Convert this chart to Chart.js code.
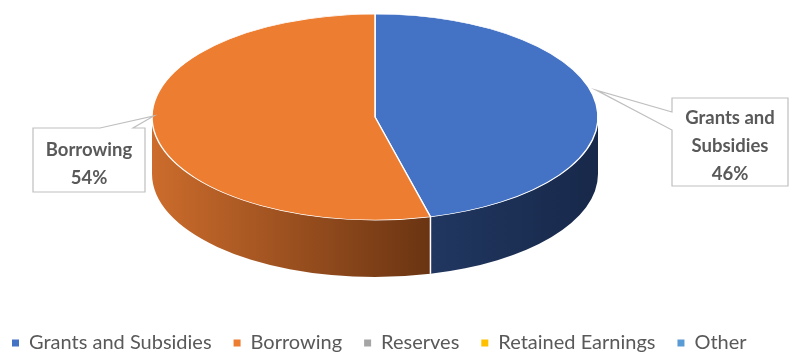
<!DOCTYPE html>
<html>
<head>
<meta charset="utf-8">
<title>Funding Sources</title>
<script src="https://cdn.jsdelivr.net/npm/chart.js@4.4.1/dist/chart.umd.min.js"></script>
<style>
  html, body { margin: 0; padding: 0; background: #ffffff; }
  #wrap { width: 792px; height: 355px; position: relative; }
</style>
</head>
<body>
<div id="wrap"><canvas id="fundingChart"></canvas></div>
<script>
// funding mix (percent)
const sources = ['Grants and Subsidies', 'Borrowing', 'Reserves', 'Retained Earnings', 'Other'];
const shares = [46, 54, 0, 0, 0];
const topColors = ['#4472C4', '#ED7D31', '#A5A5A5', '#FFC000', '#5B9BD5'];
// side wall shading, light end -> dark end
const sideColors = [
  ['#213760', '#17284A'],
  ['#CC6C2C', '#6A3412'],
  ['#8A8A8A', '#555555'],
  ['#D9A300', '#8A6700'],
  ['#4A80B2', '#2B4C6B']
];

// callout boxes for the data labels (left, top, width, height, where the pointer leaves the box)
const callouts = [
  { left: 672, top: 98, width: 116, height: 88, side: 'left', from: 14, to: 32 },
  { left: 33, top: 128, width: 112, height: 64, side: 'top', from: 67, to: 100 }
];

const labelFont = 'bold 18.5px Lato, "Open Sans", sans-serif';
const textGray = '#595959';

// squashes the pie into an ellipse and gives it a side wall
const pie3d = {
  id: 'pie3d',
  beforeDatasetsDraw(chart, args, opts) {
    const ctx = chart.ctx;
    const arcs = chart.getDatasetMeta(0).data;
    const cx = arcs[0].x + opts.shiftX;
    const rx = arcs[0].outerRadius;
    const ry = rx * opts.squash;
    const cy = chart.chartArea.top + ry;
    const depth = opts.depth;

    ctx.save();
    arcs.forEach((arc, i) => {
      // only the front half of the wall (0..PI) can be seen
      const s = Math.max(arc.startAngle, 0);
      const e = Math.min(arc.endAngle, Math.PI);
      if (e <= s) return;
      const xLeft = cx + rx * Math.cos(e);
      const xRight = cx + rx * Math.cos(s);
      const grad = ctx.createLinearGradient(xLeft, 0, xRight, 0);
      grad.addColorStop(0, sideColors[i][0]);
      grad.addColorStop(1, sideColors[i][1]);
      ctx.beginPath();
      ctx.ellipse(cx, cy, rx, ry, 0, s, e);
      ctx.ellipse(cx, cy + depth, rx, ry, 0, e, s, true);
      ctx.closePath();
      ctx.fillStyle = grad;
      ctx.fill();
    });
    // white seams where slices meet on the wall
    ctx.strokeStyle = '#ffffff';
    ctx.lineWidth = 1.5;
    arcs.forEach((arc) => {
      const a = arc.startAngle;
      if (a > 0 && a < Math.PI && arc.circumference > 0) {
        const px = cx + rx * Math.cos(a);
        const py = cy + ry * Math.sin(a);
        ctx.beginPath();
        ctx.moveTo(px, py);
        ctx.lineTo(px, py + depth);
        ctx.stroke();
      }
    });
    ctx.restore();

    // the library draws the top face inside this transform
    ctx.save();
    ctx.translate(opts.shiftX, cy);
    ctx.scale(1, opts.squash);
    ctx.translate(0, -arcs[0].y);
  },
  afterDatasetsDraw(chart, args, opts) {
    const ctx = chart.ctx;
    ctx.restore();

    const arcs = chart.getDatasetMeta(0).data;
    const cx = arcs[0].x + opts.shiftX;
    const rx = arcs[0].outerRadius;
    const ry = rx * opts.squash;
    const cy = chart.chartArea.top + ry;
    const total = shares.reduce((a, b) => a + b, 0);

    let n = 0;
    arcs.forEach((arc, i) => {
      if (!shares[i]) return;
      const box = callouts[n++];
      if (!box) return;
      const mid = (arc.startAngle + arc.endAngle) / 2;
      const tipX = cx + rx * Math.cos(mid);
      const tipY = cy + ry * Math.sin(mid) - opts.lift;
      const L = box.left, T = box.top, R = box.left + box.width, B = box.top + box.height;

      ctx.save();
      ctx.beginPath();
      if (box.side === 'left') {
        ctx.moveTo(L, T);
        ctx.lineTo(R, T);
        ctx.lineTo(R, B);
        ctx.lineTo(L, B);
        ctx.lineTo(L, T + box.to);
        ctx.lineTo(tipX, tipY);
        ctx.lineTo(L, T + box.from);
      } else {
        ctx.moveTo(L, T);
        ctx.lineTo(L + box.from, T);
        ctx.lineTo(tipX, tipY);
        ctx.lineTo(L + box.to, T);
        ctx.lineTo(R, T);
        ctx.lineTo(R, B);
        ctx.lineTo(L, B);
      }
      ctx.closePath();
      ctx.fillStyle = '#ffffff';
      ctx.fill();
      ctx.strokeStyle = '#BFBFBF';
      ctx.lineWidth = 1.2;
      ctx.stroke();

      // category name (wrapped) + percentage
      ctx.font = labelFont;
      ctx.fillStyle = textGray;
      ctx.textAlign = 'center';
      ctx.textBaseline = 'middle';
      const lines = wrap(ctx, sources[i], box.width - 10);
      lines.push(Math.round(shares[i] / total * 100) + '%');
      const lh = 28;
      const startY = (T + B) / 2 + 4 - (lines.length - 1) * lh / 2;
      lines.forEach((t, k) => ctx.fillText(t, (L + R) / 2, startY + k * lh));
      ctx.restore();
    });
  }
};

function wrap(ctx, text, maxW) {
  const words = text.split(' ');
  const out = [];
  let line = '';
  words.forEach((w) => {
    const test = line ? line + ' ' + w : w;
    if (line && ctx.measureText(test).width > maxW) {
      out.push(line);
      line = w;
    } else {
      line = test;
    }
  });
  if (line) out.push(line);
  return out;
}

new Chart(document.getElementById('fundingChart'), {
  type: 'pie',
  data: {
    labels: sources,
    datasets: [{
      data: shares,
      backgroundColor: topColors,
      borderColor: '#ffffff',
      borderWidth: 1.5,
      radius: 223,
      clip: false
    }]
  },
  options: {
    responsive: true,
    maintainAspectRatio: false,
    animation: false,
    events: [],
    layout: { padding: { top: 14, right: 0, left: -10, bottom: -8 } },
    plugins: {
      tooltip: { enabled: false },
      pie3d: { squash: 0.462, depth: 57, lift: 14, shiftX: -21 },
      legend: {
        position: 'bottom',
        align: 'start',
        labels: {
          boxWidth: 7,
          boxHeight: 7,
          padding: 22,
          color: textGray,
          font: { family: 'Lato, "Open Sans", sans-serif', size: 20 },
          generateLabels(chart) {
            const items = Chart.overrides.pie.plugins.legend.labels.generateLabels(chart);
            items.forEach((it) => {
              it.lineWidth = 0;
              it.strokeStyle = 'rgba(0,0,0,0)';
              it.hidden = false;
            });
            return items;
          }
        }
      }
    }
  },
  plugins: [pie3d]
});
</script>
</body>
</html>
